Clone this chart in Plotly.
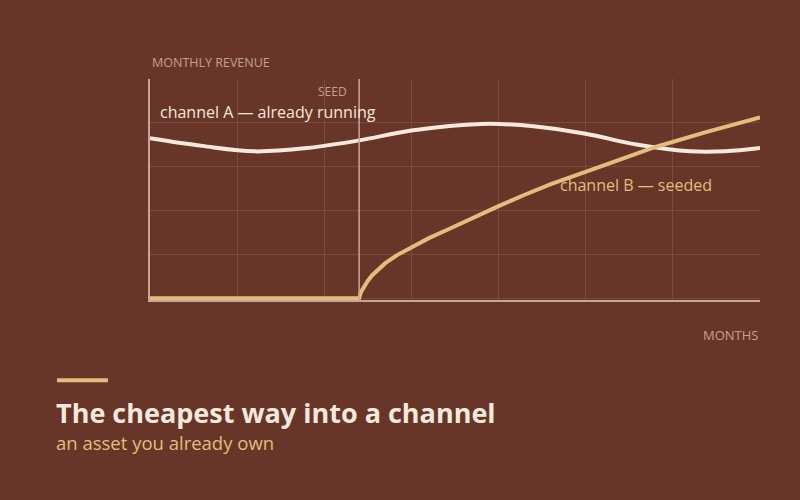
import plotly.graph_objects as go

# months on the x axis, revenue index on the y axis
months_a = [0, 3, 6, 9, 12, 15, 19, 22, 25, 28, 31, 33, 35]
revenue_a = [73, 69.5, 67, 68.5, 72, 76.5, 79.5, 78.5, 75, 70, 67, 67, 68.5]

months_b = [0, 12, 12.1, 12.25, 12.5, 12.75, 13.1, 13.5, 14.2, 15, 16, 17, 18.5, 20, 21.5, 23, 26, 29, 32, 35]
revenue_b = [0, 0, 2.8, 5, 8, 10.5, 13.3, 16, 19.8, 23.4, 27.4, 31, 36.7, 42, 47.2, 52, 60.5, 69, 76, 82.5]

seed_month = 12

bg = "#673628"
cream = "#f7e9dc"
tan = "#e3bd7c"
muted = "#c4a08f"
grid = "#7b4a3a"
axis = "#c9a594"
font = "Open Sans"

fig = go.Figure()
fig.add_trace(go.Scatter(x=months_a, y=revenue_a, mode="lines", name="channel A",
                         line=dict(color=cream, width=4, shape="spline", smoothing=1)))
fig.add_trace(go.Scatter(x=months_b, y=revenue_b, mode="lines", name="channel B",
                         line=dict(color=tan, width=4)))

# seed marker
fig.add_shape(type="line", x0=seed_month, x1=seed_month, y0=0, y1=1, xref="x", yref="paper",
              line=dict(color=axis, width=1.5))
fig.add_annotation(x=seed_month, y=1, xref="x", yref="paper", yshift=-12, xshift=-10,
                   text="SEED", showarrow=False, xanchor="right", yanchor="middle",
                   font=dict(family=font, size=12, color=muted))

fig.add_annotation(x=0.45, y=84.8, xref="x", yref="y", text="channel A — already running",
                   showarrow=False, xanchor="left", yanchor="middle",
                   font=dict(family=font, size=16, color=cream))
fig.add_annotation(x=23.4, y=51.6, xref="x", yref="y", text="channel B — seeded",
                   showarrow=False, xanchor="left", yanchor="middle",
                   font=dict(family=font, size=16, color=tan))

fig.add_annotation(x=0, y=1, xref="paper", yref="paper", yshift=17, text="MONTHLY REVENUE",
                   showarrow=False, xanchor="left", yanchor="middle",
                   font=dict(family=font, size=12.5, color=muted))
fig.add_annotation(x=1, y=0, xref="paper", yref="paper", yshift=-35, text="MONTHS",
                   showarrow=False, xanchor="right", yanchor="middle",
                   font=dict(family=font, size=13, color=muted))

# title block
fig.add_shape(type="line", x0=-0.1525, x1=-0.069, y0=-0.363, y1=-0.363, xref="paper", yref="paper",
              line=dict(color=tan, width=4))
fig.add_annotation(x=-0.157, y=-0.511, xref="paper", yref="paper",
                   text="<b>The cheapest way into a channel</b>", showarrow=False,
                   xanchor="left", yanchor="middle", font=dict(family=font, size=27, color=cream))
fig.add_annotation(x=-0.157, y=-0.647, xref="paper", yref="paper",
                   text="an asset you already own", showarrow=False,
                   xanchor="left", yanchor="middle", font=dict(family=font, size=18.5, color=tan))

fig.update_layout(
    width=800, height=500,
    paper_bgcolor=bg, plot_bgcolor=bg,
    margin=dict(l=150, r=40, t=79, b=200),
    showlegend=False,
    xaxis=dict(range=[0, 35], dtick=5, showticklabels=False, zeroline=False,
               showgrid=True, gridcolor=grid, gridwidth=1,
               showline=True, linecolor=axis, linewidth=2),
    yaxis=dict(range=[-0.8, 100], tick0=0, dtick=20, showticklabels=False, zeroline=False,
               showgrid=True, gridcolor=grid, gridwidth=1,
               showline=True, linecolor=axis, linewidth=2),
)

fig.write_html("out.html", config={"displayModeBar": False},
               post_script="document.body.style.margin='0';")
